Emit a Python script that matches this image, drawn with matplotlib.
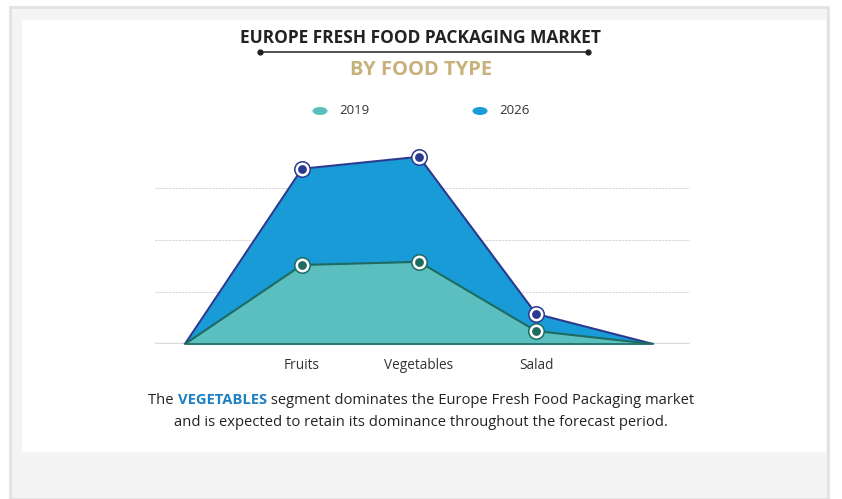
import matplotlib
matplotlib.use("Agg")
import matplotlib.pyplot as plt
from matplotlib.patches import Rectangle, Ellipse
import numpy as np

categories = ["", "Fruits", "Vegetables", "Salad", ""]
values_2019 = [0, 1.52, 1.58, 0.25, 0]
values_2026 = [0, 3.37, 3.60, 0.58, 0]
series_labels = ["2019", "2026"]

W, H = 842, 499
fig = plt.figure(figsize=(W / 100, H / 100), dpi=100)
fig.patch.set_facecolor("white")

def fx(px):
    return px / W

def fy(py):
    return 1 - py / H

# frame
fig.patches.append(Rectangle((fx(10), fy(499)), fx(828 - 10), (499 - 7) / H,
                             transform=fig.transFigure, facecolor="#f4f4f4",
                             edgecolor="#e2e2e2", linewidth=2, zorder=0))
fig.patches.append(Rectangle((fx(22), fy(452)), fx(826 - 22), (452 - 20) / H,
                             transform=fig.transFigure, facecolor="white",
                             edgecolor="none", zorder=0.5))

FONT = "Open Sans"

# titles
fig.text(0.5, fy(38), "EUROPE FRESH FOOD PACKAGING MARKET", ha="center", va="center",
         fontsize=12.5, fontweight="bold", color="#222222", family=FONT)
fig.add_artist(plt.Line2D([fx(260), fx(588)], [fy(52), fy(52)], transform=fig.transFigure,
                          color="#333333", linewidth=1.2))
fig.add_artist(plt.Line2D([fx(260), fx(588)], [fy(52), fy(52)], transform=fig.transFigure,
                          color="#222222", linestyle="none", marker="o", markersize=3.5))
fig.text(0.5, fy(70), "BY FOOD TYPE", ha="center", va="center",
         fontsize=14.5, fontweight="bold", color="#c8b27c", family=FONT)

c19_fill, c19_edge = "#5bbfbf", "#1e6b60"
c26_fill, c26_edge = "#189bd7", "#2a3a8e"

# legend
for cx, tx, col, lab in [(320, 339, c19_fill, series_labels[0]), (480, 499, c26_fill, series_labels[1])]:
    fig.patches.append(Ellipse((fx(cx), fy(111)), fx(15), 8 / H, transform=fig.transFigure,
                               facecolor=col, edgecolor="none"))
    fig.text(fx(tx), fy(111), lab, ha="left", va="center", fontsize=9.5, color="#333333", family=FONT)

ax = fig.add_axes([fx(155), fy(344), fx(690 - 155), (344 - 136) / H])
ax.set_zorder(2)
ax.set_facecolor("none")
x = np.arange(len(categories))
ax.fill_between(x, 0, values_2026, color=c26_fill, zorder=2, linewidth=0)
ax.plot(x, values_2026, color=c26_edge, linewidth=1.5, zorder=3)
ax.fill_between(x, 0, values_2019, color=c19_fill, zorder=4, linewidth=0)
ax.plot(x, values_2019, color=c19_edge, linewidth=1.5, zorder=5)
ax.plot([x[0], x[-1]], [0, 0], color=c19_edge, linewidth=1.2, zorder=5, clip_on=False)

for vals, ec in [(values_2026, c26_edge), (values_2019, c19_edge)]:
    ax.scatter(x[1:4], vals[1:4], s=150, color=ec, zorder=6, linewidths=0, clip_on=False)
    ax.scatter(x[1:4], vals[1:4], s=100, color="white", zorder=7, linewidths=0, clip_on=False)
    ax.scatter(x[1:4], vals[1:4], s=40, color=ec, zorder=8, linewidths=0, clip_on=False)

ax.set_xlim(-0.256, 4.316)
ax.set_ylim(0, 4)
for g in [1, 2, 3]:
    ax.axhline(g, color="#d6d6d6", linewidth=0.8, linestyle=(0, (2, 1)), zorder=1)
ax.axhline(0, color="#dcdcdc", linewidth=2.5, zorder=1.5)
ax.set_xticks(x[1:4])
ax.set_xticklabels(categories[1:4], fontsize=9.8, color="#333333", family=FONT)
ax.tick_params(axis="x", length=0, pad=10)
ax.set_yticks([])
for s in ax.spines.values():
    s.set_visible(False)

# footer with mixed styling
fig.canvas.draw()
renderer = fig.canvas.get_renderer()
parts = [("The ", "normal", "#222222"), ("VEGETABLES", "bold", "#1f80c2"),
         (" segment dominates the Europe Fresh Food Packaging market", "normal", "#222222")]
texts = []
for s, w, c in parts:
    t = fig.text(0, fy(400), s, ha="left", va="center", fontsize=10.6, fontweight=w,
                 color=c, family=FONT)
    texts.append(t)
widths = [t.get_window_extent(renderer).width for t in texts]
total = sum(widths)
start = W / 2 - total / 2
for t, wd in zip(texts, widths):
    t.set_x(fx(start))
    start += wd
fig.text(0.5, fy(422), "and is expected to retain its dominance throughout the forecast period.",
         ha="center", va="center", fontsize=10.6, color="#222222", family=FONT)

fig.savefig("out.png", dpi=100)
